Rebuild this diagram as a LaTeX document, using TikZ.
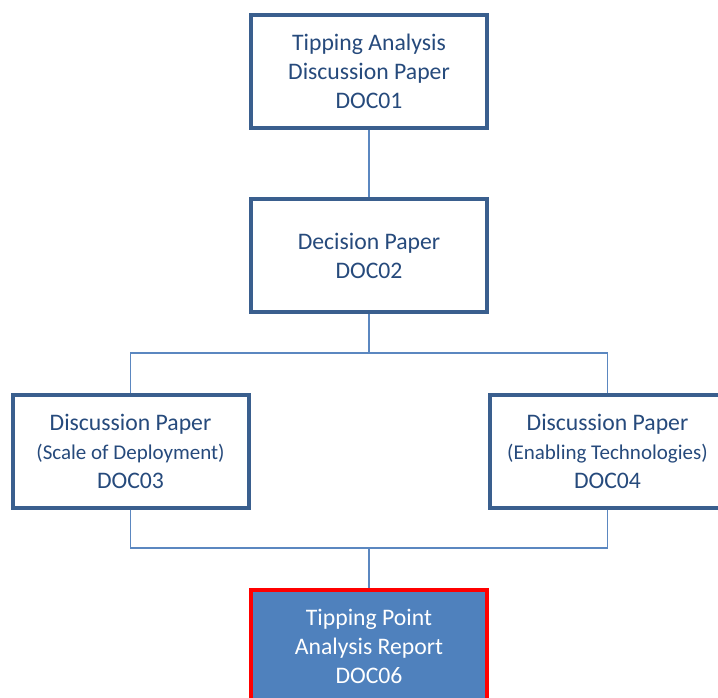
\documentclass[tikz,border=0pt]{standalone}
\usepackage{fontspec}
\setmainfont{Carlito}
\begin{document}
\definecolor{boxline}{HTML}{3A5F8E}
\definecolor{linkline}{HTML}{5B87C0}
\definecolor{doctext}{HTML}{264A7C}
\definecolor{reportfill}{HTML}{4F81BD}
\definecolor{reportline}{HTML}{FF0000}
\newcommand{\subline}[1]{{\fontsize{21}{26}\selectfont #1}}
\tikzset{
  docbox/.style={draw=boxline, line width=4pt, fill=white, text=doctext,
    minimum width=236pt, minimum height=113pt, align=center, inner sep=0pt,
    font=\fontsize{23.7}{29}\selectfont},
  reportbox/.style={docbox, draw=reportline, fill=reportfill, text=white},
  link/.style={draw=linkline, line width=1.6pt}
}
\begin{tikzpicture}[x=1pt, y=-1pt]
  \useasboundingbox (0,0) rectangle (718,698);
  \clip (0,0) rectangle (718,698);

  % document boxes
  \node[docbox] (d1) at (369,71.5) {Tipping Analysis\\Discussion Paper\\DOC01};
  \node[docbox] (d2) at (369,255.5) {Decision Paper\\DOC02};
  \node[docbox] (d3) at (130.5,451) {Discussion Paper\\\subline{(Scale of Deployment)}\\DOC03};
  \node[docbox] (d4) at (607.5,451) {Discussion Paper\\\subline{(Enabling Technologies)}\\DOC04};
  \node[reportbox] (d6) at (369,646) {Tipping Point\\Analysis Report\\DOC06};

  % junctions of the tree connectors
  \coordinate (split) at (369,353);
  \coordinate (merge) at (369,548);

  \draw[link] (d1.south) -- (d2.north);
  \draw[link] (d2.south) -- (split);
  \draw[link] (split) -| (d3.north);
  \draw[link] (split) -| (d4.north);
  \draw[link] (d3.south) |- (merge);
  \draw[link] (d4.south) |- (merge);
  \draw[link] (merge) -- (d6.north);
\end{tikzpicture}
\end{document}
